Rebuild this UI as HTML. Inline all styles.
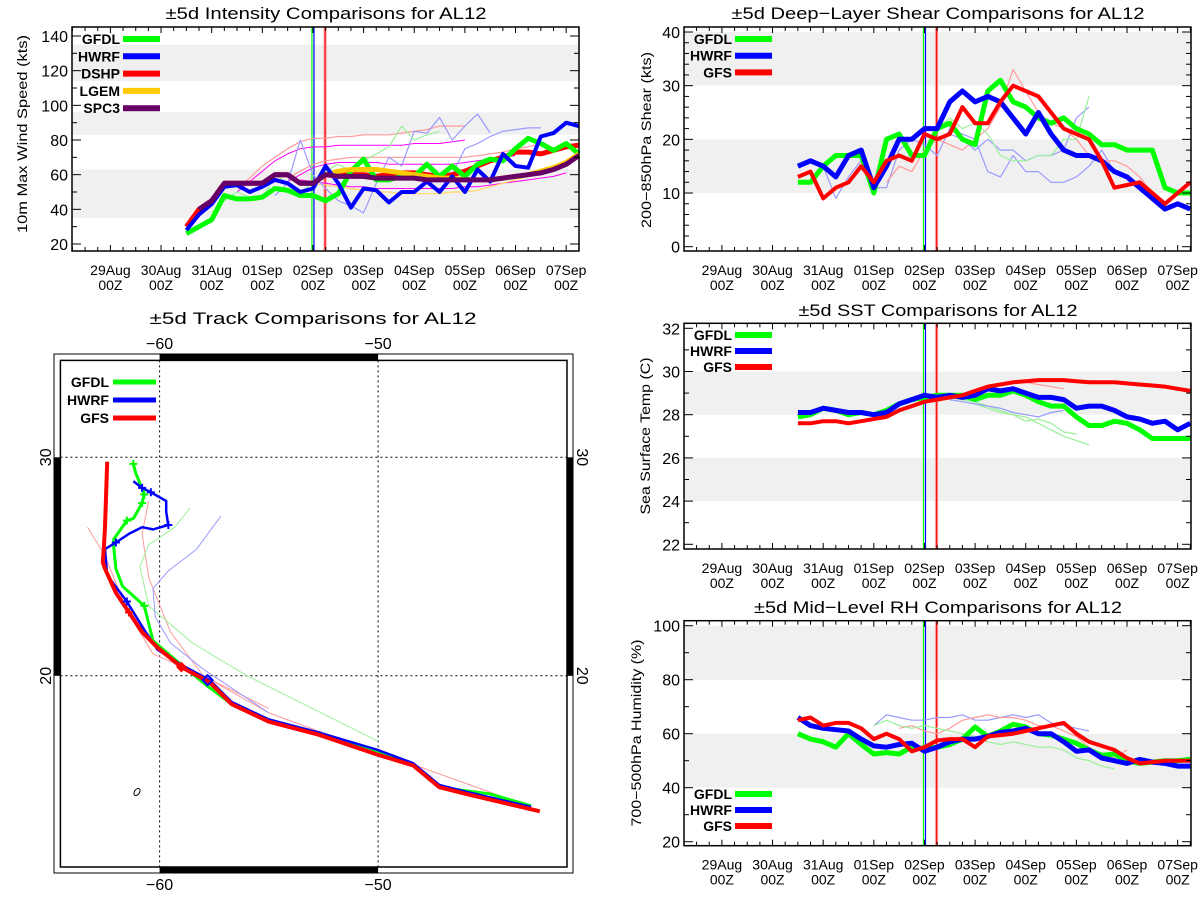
<!DOCTYPE html>
<html><head><meta charset="utf-8"><style>
html,body{margin:0;padding:0;background:#fff}
svg{display:block;font-family:"Liberation Sans",sans-serif}
</style></head><body>
<svg id="s" width="1200" height="900" viewBox="0 0 1200 900"></svg>
<script>
// ===== data =====
var dayLabels=["29Aug","30Aug","31Aug","01Sep","02Sep","03Sep","04Sep","05Sep","06Sep","07Sep"];
var legendInt=["GFDL","HWRF","DSHP","LGEM","SPC3"];
var legendModels=["GFDL","HWRF","GFS"];
var intTicks=[20,40,60,80,100,120,140];
var shearTicks=[0,10,20,30,40];
var sstTicks=[22,24,26,28,30,32];
var rhTicks=[20,40,60,80,100];
// intensity (kts), 6-hourly
var intGFDLStart=1.5;
var intGFDL=[26,30,34,48,46,46,47,52,51,48,48,45,49,62,69,57,57,59,59,66,59,65,59,66,69,68,75,81,78,74,78,72];
var intHWRF=[28,37,43,53,54,50,53,57,55,50,52,65,55,41,52,51,44,50,50,56,50,59,50,63,56,72,65,64,82,84,90,88];
var intDSHP=[30,40,45,55,55,55,55,60,60,55,55,60,60,60,60,59,60,61,61,60,59,60,62,65,68,70,73,73,72,74,76,77];
var intDSHPStart=1.5;
var intLGEMStart=4.25;
var intLGEM=[60,62,63,63,63,62,61,60,59,58,58,57,57,57,58,59,60,62,64,67,72];
var intSPC3=[40,45,55,55,55,55,60,60,55,55,60,59,59,59,58,58,58,58,57,57,57,57,57,57,58,59,60,61,63,66,71];
var intSPC3Start=1.75;
var intThinPink1=[52,58,65,70,75,79,81,81,82,82,83,83,83,84,85,86,88,88,88];
var intThinMag1=[50,56,62,68,72,75,76,76,77,77,77,77,77,77,78,78,78,79,80];
var intThinMag2=[57,56,55,54,53,53,52,52,52,52,52,52,52,53,53,54,55,56,57,58,59,61];
var intThinPink2=[58,62,66,68,69,70,70,70,70,70,70,70,70,70,70,71,72,73,75,76,78];
var intThinMag3=[56,60,64,66,67,67,67,67,66,66,66,66,66,66,67,68,69,70,71];
var intThinYel=[56,55,54,53,52,51,50,50,49,49,49,49,50,50,51,53,55,57,59];
var intThinBlue1=[48,55,80,60,52,45,42,38,55,70,65,85,84,93,80,88,95,84];
var intThinBlue2=[60,75,78,82,85,86,87,87];
var intThinGreen=[38,45,50,47,46,60,55,50,55,62,66,62,68,72,76,88,80,83,85];
// shear (kts)
var shGFDL=[12,12,15,17,17,17,10,20,21,17,17,22,23,20,19,29,31,27,26,24,23,24,22,21,19,19,18,18,18,11,10,10];
var shHWRF=[15,16,15,13,17,18,11,15,20,20,22,22,27,29,27,28,27,24,21,25,21,18,17,17,16,14,13,11,9,7,8,7];
var shGFS=[13,14,9,11,12,15,12,16,17,16,21,20,21,26,23,23,27,30,29,28,25,22,21,20,16,11,11.5,12,10,8,10,12];
var shThinBlue1=[15,9,13,16,11,11,18,20,19,17,22,21,20,14,13,17,14,14,12,12,13,15,18,14];
var shThinBlue2=[20,21,20,18,20,18,18,16,17,17,18,24,26];
var shThinPink=[12,15,14,18,20,19,18,20,22,26,33,29,25,23,22,20,17,16,16,15,13,10,7];
var shThinGreen=[22,24,22,23,21,17,16,16,17,17,20,20,28];
// SST (C)
var sstHWRF=[28.1,28.1,28.3,28.2,28.1,28.1,28.0,28.1,28.5,28.7,28.9,28.8,28.9,28.8,28.9,29.2,29.1,29.2,29.0,28.8,28.8,28.7,28.3,28.4,28.4,28.2,27.9,27.8,27.6,27.7,27.3,27.6];
var sstGFDL=[27.9,28.0,28.3,28.2,28.0,28.1,28.0,28.2,28.5,28.7,28.8,28.9,28.9,28.9,28.7,28.9,28.9,29.1,28.9,28.6,28.4,28.4,27.9,27.5,27.5,27.7,27.6,27.3,26.9,26.9,26.9,26.9];
var sstGFS=[27.6,27.6,27.7,27.7,27.6,27.7,27.8,27.9,28.2,28.4,28.6,28.7,28.8,28.9,29.1,29.3,29.4,29.5,29.55,29.6,29.6,29.6,29.55,29.5,29.5,29.5,29.45,29.4,29.35,29.3,29.2,29.1];
var sstThinGreen1=[28.7,28.6,28.5,28.3,28.1,28.0,27.7,27.8,27.6,27.2,27.1];
var sstThinGreen2=[28.8,28.7,28.6,28.4,28.2,28.0,27.9,27.6,27.3,27.0,26.8,26.6];
var sstThinBlue=[28.7,28.6,28.5,28.4,28.3,28.1,28.0,27.9,28.1,28.2];
var sstThinPink=[29.2,29.4,29.5,29.5,29.4,29.3,29.2];
// RH (%)
var rhHWRF=[66,63,62,61.5,61,58,55.5,55,56,56.5,53.5,55,57,58,58,59,60.5,61,62,60,60,57,53.5,54,51,50,49,50.5,49.5,49,48,48];
var rhGFDL=[60,58,57,55,60,56,52.5,53,52.5,55,54.5,55,56,58,62.5,59,61,63.5,62.5,60,59.5,58,56.5,54,52,52.5,50,49,49.5,50,50,50.5];
var rhGFS=[65,66,63,64,64,62,58,60,58,53.5,55,57.5,58,58,55,59,59.5,60,61,62,63,64,60,57,55.5,54,51,49,49.5,50,50,50];
var rhThinBlue=[63,67,66,65,65,66,66,67,65,65,66,67,66,67,64,63,62,61];
var rhThinPink=[62,63,61,60,62,65,66,67,66,66,65,63,63,61,59,55,52,51,54];
var rhThinGreen=[63,65,63,62,63,62,61,60,59,57,56,57,56,55,55,54,51,50,48,47];
// tracks [lon,lat]
var trkGFS=[[-42.6,13.8],[-46.0,14.6],[-47.2,14.9],[-48.4,15.9],[-50.05,16.4],[-52.7,17.3],[-55.0,17.9],[-56.7,18.7],[-57.7,19.7],[-59.0,20.4],[-60.1,21.3],[-60.8,22.0],[-61.4,22.9],[-62.0,23.8],[-62.5,24.9],[-62.6,25.2],[-62.55,25.9],[-62.5,26.8],[-62.4,29.8]];
var trkHWRF=[[-43.0,14.0],[-46.0,14.7],[-47.2,15.0],[-48.4,16.0],[-50.0,16.6],[-52.7,17.4],[-55.0,18.0],[-56.7,18.8],[-57.7,19.8],[-59.0,20.5],[-60.1,21.2],[-60.7,22.1],[-61.5,23.4],[-62.4,24.6],[-62.5,25.8],[-62.0,26.1],[-61.4,26.5],[-60.8,26.8],[-60.3,26.7],[-59.6,26.9],[-59.7,27.5],[-59.7,28.0],[-60.4,28.4],[-60.8,28.6],[-61.2,28.9]];
var trkGFDL=[[-43.0,14.05],[-44.9,14.6],[-47.2,14.9],[-48.4,15.9],[-50.0,16.5],[-52.7,17.3],[-55.0,17.9],[-56.7,18.7],[-57.9,19.6],[-59.0,20.5],[-60.3,21.6],[-60.7,23.2],[-61.7,24.1],[-62.0,24.9],[-62.1,25.9],[-62.1,26.25],[-61.5,27.1],[-61.2,27.2],[-60.8,27.9],[-60.7,28.3],[-61.1,29.3],[-61.2,29.7]];
var trkThinPink1=[[-43,14],[-48,15.8],[-52,17.2],[-55,18.3],[-58,20],[-59.5,22],[-60.5,24.5],[-60.8,26.5],[-60.5,28]];
var trkThinPink2=[[-55,18.5],[-58,20],[-60.3,21],[-61.5,23],[-62.5,25.5],[-63.3,26.8]];
var trkThinGreen=[[-50,17],[-53,18.5],[-56,20],[-58.5,21.5],[-60.5,23.2],[-60.9,25],[-60.5,26],[-59.3,26.8],[-58.6,27.7]];
var trkThinBlue=[[-55,18.3],[-58,20.3],[-59.5,21.5],[-60.2,22.7],[-60.3,24],[-59.6,24.8],[-58.3,25.8],[-57.8,26.5],[-57.2,27.3]];

// ===== drawing =====
var NS="http://www.w3.org/2000/svg";
var svg=document.getElementById("s");
function mk(tag,attrs,parent){var e=document.createElementNS(NS,tag);for(var k in attrs)e.setAttribute(k,attrs[k]);(parent||svg).appendChild(e);return e;}

function panel(cfg){
  var g=mk("g",{});
  
  
  function X(d){return cfg.xd0+d*50.64;}
  function Y(v){return cfg.ya+(v-cfg.va)*(cfg.yb-cfg.ya)/(cfg.vb-cfg.va);}
  cfg.bands.forEach(function(b){
    var r=mk("rect",{x:cfg.x0,y:Y(b[1]),width:cfg.x1-cfg.x0,height:Y(b[0])-Y(b[1]),fill:"#f0f0f0"},g);
    
    
  });
  cfg.vlines.forEach(function(v){
    var l=mk("line",{x1:X(v[0]),x2:X(v[0]),y1:cfg.y0,y2:cfg.y1,stroke:v[1],"stroke-width":v[2]},g);
    
    
  });
  function series(arr,start,color,w,nm,op){
    var p=arr.map(function(v,i){return X(start+i*0.25).toFixed(1)+","+Y(v).toFixed(1);}).join(" ");
    var pl=mk("polyline",{points:p,fill:"none",stroke:color,"stroke-width":w,"stroke-linejoin":"round","stroke-opacity":op||1},g);
    
    
  }
  cfg.series.forEach(function(s){series(s[0],s[1],s[2],s[3],s[4],s[5]);});
  var bx=mk("rect",{x:cfg.x0,y:cfg.y0,width:cfg.x1-cfg.x0,height:cfg.y1-cfg.y0,fill:"none",stroke:"#000","stroke-width":1.5},g);
  
  
  for(var q=-3;q<=38;q++){var d=q*0.25,x=X(d);if(x<cfg.x0||x>cfg.x1)continue;var L=(q%4==0)?6:4;
    mk("line",{x1:x,x2:x,y1:cfg.y1,y2:cfg.y1-L,stroke:"#000"},g);mk("line",{x1:x,x2:x,y1:cfg.y0,y2:cfg.y0+L,stroke:"#000"},g);}
  dayLabels.forEach(function(t,i){
    var tx=mk("text",{x:X(i),y:cfg.y1+24,"font-size":14,"text-anchor":"middle"},g);tx.textContent=t;
    
    
    var tz=mk("text",{x:X(i),y:cfg.y1+39,"font-size":14,"text-anchor":"middle"},g);tz.textContent="00Z";
    
    
  });
  var step=cfg.ticks[1]-cfg.ticks[0],mstep=step/cfg.minor;
  for(var v=cfg.ticks[0];v<=cfg.ticks[cfg.ticks.length-1]+1e-6;v+=mstep){var y=Y(v);var maj=Math.abs((v-cfg.ticks[0])/step-Math.round((v-cfg.ticks[0])/step))<1e-6;var L=maj?9:5;
    mk("line",{x1:cfg.x0,x2:cfg.x0+L,y1:y,y2:y,stroke:"#000"},g);mk("line",{x1:cfg.x1,x2:cfg.x1-L,y1:y,y2:y,stroke:"#000"},g);}
  cfg.ticks.forEach(function(v){
    var t=mk("text",{x:cfg.x0-4,y:Y(v)+6,"font-size":16,"text-anchor":"end"},g);t.textContent=v;
    
    
  });
  var tt=mk("text",{x:cfg.tx,y:cfg.ty,"font-size":17,"text-anchor":"middle",textLength:cfg.tw,lengthAdjust:"spacingAndGlyphs"},g);tt.textContent=cfg.title;
  
  
  var yt=mk("text",{x:0,y:0,"font-size":14,"text-anchor":"middle",transform:"translate("+cfg.ylx+","+cfg.yly+") rotate(-90)",textLength:cfg.ylw,lengthAdjust:"spacingAndGlyphs"},g);yt.textContent=cfg.ylabel;
  
  
  cfg.legend.forEach(function(l,i){
    var y=cfg.ly0+i*cfg.ldy;
    var lt=mk("text",{x:cfg.lx-3,y:y+5,"font-size":14,"font-weight":"bold","text-anchor":"end"},g);lt.textContent=l[0];
    
    
    var ll=mk("line",{x1:cfg.lx,x2:cfg.lx+37,y1:y,y2:y,stroke:l[1],"stroke-width":6},g);
    
    
  });
}
var GR="#00ff00",BL="#0000ff",RD="#ff0000",YE="#ffc800",PU="#660066",MG="#ff00ff",PK="#ff9a9a",LB="#9a9aff",LG="#9af09a";
var VL=[[3.98,GR,1.2],[4.02,BL,1.2],[4.24,"#ff9090",3],[4.24,RD,1]];

panel({name:"intensity-panel",x0:72,x1:579,y0:27,y1:251,xd0:110.4,ya:244,va:20,yb:36,vb:140,ticks:intTicks,minor:2,
 bands:[[35,63],[83,96],[114,135]],vlines:VL,
 series:[[intThinPink1,2.5,PK,1.2,"thin-pink-1"],[intThinMag1,2.5,MG,1,"thin-magenta-1"],[intThinMag2,3.75,MG,1,"thin-magenta-2"],
  [intThinPink2,3.5,PK,1.2,"thin-pink-2"],[intThinMag3,3.5,MG,1,"thin-magenta-3"],[intThinYel,3.75,"#ffd966",1.2,"thin-yellow"],
  [intThinBlue1,3.25,LB,1.2,"thin-blue-1"],[intThinBlue2,6.75,LB,1.2,"thin-blue-2"],[intThinGreen,2.0,LG,1.2,"thin-green"],
  [intDSHP,intDSHPStart,RD,5,"dshp-line"],[intGFDL,intGFDLStart,GR,5,"gfdl-line"],[intLGEM,intLGEMStart,YE,5,"lgem-line"],
  [intHWRF,1.5,BL,4,"hwrf-line"],[intSPC3,intSPC3Start,PU,5,"spc3-line"]],
 tx:326,ty:19,tw:321,title:"±5d Intensity Comparisons for AL12",ylx:27,yly:134,ylw:198,ylabel:"10m Max Wind Speed (kts)",
 legend:[["GFDL",GR],["HWRF",BL],["DSHP",RD],["LGEM",YE],["SPC3",PU]],lx:123,ly0:39,ldy:17.3});

panel({name:"shear-panel",x0:684,x1:1191,y0:27,y1:251,xd0:721.9,ya:246.7,va:0,yb:32,vb:40,ticks:shearTicks,minor:5,
 bands:[[10,20],[30,40]],vlines:VL,
 series:[[shThinBlue1,2.0,LB,1.2,"thin-blue-1"],[shThinBlue2,4.25,LB,1.2,"thin-blue-2"],[shThinPink,3.25,PK,1.2,"thin-pink"],[shThinGreen,4.25,LG,1.2,"thin-green"],
  [shGFDL,1.5,GR,5,"gfdl-line"],[shHWRF,1.5,BL,5,"hwrf-line"],[shGFS,1.5,RD,4,"gfs-line"]],
 tx:938,ty:19,tw:413,title:"±5d Deep−Layer Shear Comparisons for AL12",ylx:651,yly:140,ylw:176,ylabel:"200−850hPa Shear (kts)",
 legend:[["GFDL",GR],["HWRF",BL],["GFS",RD]],lx:735,ly0:39,ldy:16.7});

panel({name:"sst-panel",x0:684,x1:1191,y0:323.3,y1:549,xd0:721.9,ya:544.3,va:22,yb:328.3,vb:32,ticks:sstTicks,minor:2,
 bands:[[24,26],[28,30]],vlines:VL,
 series:[[sstThinGreen1,4.5,LG,1.2,"thin-green-1"],[sstThinGreen2,4.5,LG,1.2,"thin-green-2"],[sstThinBlue,4.5,LB,1.2,"thin-blue"],[sstThinPink,5.25,PK,1.2,"thin-pink"],
  [sstGFDL,1.5,GR,5,"gfdl-line"],[sstHWRF,1.5,BL,5,"hwrf-line"],[sstGFS,1.5,RD,4,"gfs-line"]],
 tx:938,ty:316,tw:279,title:"±5d SST Comparisons for AL12",ylx:650,yly:436,ylw:157,ylabel:"Sea Surface Temp (C)",
 legend:[["GFDL",GR],["HWRF",BL],["GFS",RD]],lx:735,ly0:335,ldy:16});

panel({name:"rh-panel",x0:684,x1:1191,y0:620.7,y1:845.7,xd0:721.9,ya:841.7,va:20,yb:625.7,vb:100,ticks:rhTicks,minor:2,
 bands:[[40,60],[80,100]],vlines:VL,
 series:[[rhThinBlue,3.0,LB,1.2,"thin-blue"],[rhThinPink,3.5,PK,1.2,"thin-pink"],[rhThinGreen,3.0,LG,1.2,"thin-green"],
  [rhGFDL,1.5,GR,5,"gfdl-line"],[rhHWRF,1.5,BL,5,"hwrf-line"],[rhGFS,1.5,RD,4,"gfs-line"]],
 tx:938,ty:613,tw:368,title:"±5d Mid−Level RH Comparisons for AL12",ylx:641,yly:733,ylw:187,ylabel:"700−500hPa Humidity (%)",
 legend:[["GFDL",GR],["HWRF",BL],["GFS",RD]],lx:735,ly0:794,ldy:16});

// ===== track panel =====
(function(){
  var g=mk("g",{});
  
  
  function LX(lon){return 159.6+(lon+60)*21.85;}
  function LY(lat){return 675.8-(lat-20)*21.85;}
  var tt=mk("text",{x:313,y:324,"font-size":17,"text-anchor":"middle",textLength:327,lengthAdjust:"spacingAndGlyphs"},g);tt.textContent="±5d Track Comparisons for AL12";
  
  
  mk("rect",{x:54,y:354,width:519,height:519,fill:"none",stroke:"#000","stroke-width":1},g);
  var ib=mk("rect",{x:60.4,y:360.4,width:506.6,height:506.6,fill:"none",stroke:"#000","stroke-width":1.5},g);
  
  
  mk("rect",{x:LX(-60),y:354,width:LX(-50)-LX(-60),height:6.4,fill:"#000"},g);
  mk("rect",{x:LX(-60),y:867,width:LX(-50)-LX(-60),height:6,fill:"#000"},g);
  mk("rect",{x:54,y:LY(30),width:6.4,height:LY(20)-LY(30),fill:"#000"},g);
  mk("rect",{x:567,y:LY(30),width:6,height:LY(20)-LY(30),fill:"#000"},g);
  [-60,-50].forEach(function(l){
    var gl=mk("line",{x1:LX(l),x2:LX(l),y1:360.4,y2:867,stroke:"#000","stroke-dasharray":"2,3"},g);
    
    
    [349,890].forEach(function(y){var t=mk("text",{x:LX(l),y:y,"font-size":16,"text-anchor":"middle"},g);t.textContent="−"+Math.abs(l);
      
      });
  });
  [30,20].forEach(function(l){
    var gl=mk("line",{x1:60.4,x2:567,y1:LY(l),y2:LY(l),stroke:"#000","stroke-dasharray":"2,3"},g);
    
    
    var t1=mk("text",{x:0,y:0,"font-size":16,"text-anchor":"middle",transform:"translate(51,"+LY(l)+") rotate(-90)"},g);t1.textContent=l;
    
    
    var t2=mk("text",{x:0,y:0,"font-size":16,"text-anchor":"middle",transform:"translate(577,"+LY(l)+") rotate(90)"},g);t2.textContent=l;
    
    
  });
  function trk(arr,color,w,nm){
    var p=arr.map(function(a){return LX(a[0]).toFixed(1)+","+LY(a[1]).toFixed(1);}).join(" ");
    var pl=mk("polyline",{points:p,fill:"none",stroke:color,"stroke-width":w,"stroke-linejoin":"round"},g);
    
    
  }
  trk(trkThinPink1,PK,1,"thin-track-pink-1");trk(trkThinPink2,PK,1,"thin-track-pink-2");
  trk(trkThinGreen,LG,1,"thin-track-green");trk(trkThinBlue,LB,1,"thin-track-blue");
  trk(trkGFDL,GR,3,"gfdl-track");trk(trkHWRF,BL,2.5,"hwrf-track");trk(trkGFS,RD,4,"gfs-track");
  function plus(arr,idx,color){idx.forEach(function(i){var x=LX(arr[i][0]),y=LY(arr[i][1]);
    var p=mk("path",{d:"M"+(x-4)+" "+y+"h8M"+x+" "+(y-4)+"v8",stroke:color,"stroke-width":2},g);
    
    });}
  plus(trkGFDL,[11,16,18,19,21],GR);plus(trkHWRF,[12,15,19,22,23],BL);plus(trkGFS,[12],RD);
  var dm=mk("path",{d:"M"+LX(-57.8)+" "+(LY(19.8)-5)+"l5 5l-5 5l-5 -5z",fill:"none",stroke:BL,"stroke-width":2},g);
  
  
  var dm2=mk("path",{d:"M"+LX(-59)+" "+(LY(20.4)-4)+"l4 4l-4 4l-4 -4z",fill:"none",stroke:RD,"stroke-width":2},g);
  
  
  var isl=mk("ellipse",{cx:137,cy:792,rx:2.5,ry:4,fill:"none",stroke:"#000","stroke-width":1,transform:"rotate(35 137 792)"},g);
  
  
  [["GFDL",GR],["HWRF",BL],["GFS",RD]].forEach(function(l,i){var y=382+i*18;
    var lt=mk("text",{x:109,y:y+5,"font-size":14,"font-weight":"bold","text-anchor":"end"},g);lt.textContent=l[0];
    
    
    var ll=mk("line",{x1:113,x2:156,y1:y,y2:y,stroke:l[1],"stroke-width":5},g);
    
    });
})();
</script>
</body></html>
